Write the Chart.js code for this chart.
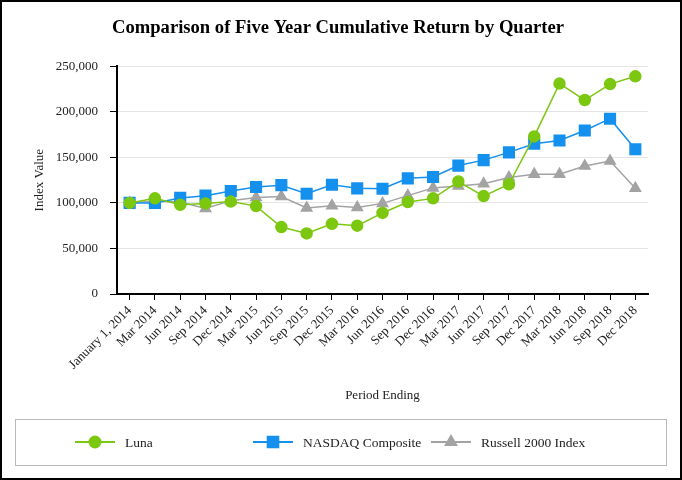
<!DOCTYPE html>
<html>
<head>
<meta charset="utf-8">
<script src="https://cdn.jsdelivr.net/npm/chart.js@4.4.1/dist/chart.umd.min.js"></script>
<style>
  html, body { margin: 0; padding: 0; background: #fff; }
  #wrap { width: 682px; height: 480px; }
</style>
</head>
<body>
<div id="wrap"><canvas id="chart" width="682" height="480"></canvas></div>
<script>
// quarter labels
const periods = ['January 1, 2014', 'Mar 2014', 'Jun 2014', 'Sep 2014', 'Dec 2014',
    'Mar 2015', 'Jun 2015', 'Sep 2015', 'Dec 2015', 'Mar 2016', 'Jun 2016',
    'Sep 2016', 'Dec 2016', 'Mar 2017', 'Jun 2017', 'Sep 2017', 'Dec 2017',
    'Mar 2018', 'Jun 2018', 'Sep 2018', 'Dec 2018'];

// index values
const luna = [100000, 105000, 98000, 99500, 101500, 96500, 73500, 66500, 77000, 75000, 89000,
    101000, 105000, 123500, 107500, 120500, 173000, 231000, 213000, 230500, 239000];
const nasdaq = [100000, 100000, 105500, 108000, 113000, 117500, 119500, 110000, 120000, 116000, 115500,
    127000, 128500, 141000, 147000, 155500, 165000, 168500, 179500, 192500, 159000];
const russell = [100000, 102000, 101000, 94000, 102500, 106000, 107000, 94500, 97000, 95000, 99500,
    108000, 116500, 118500, 121000, 128000, 131500, 131500, 140500, 146000, 116000];

const yTicks = [0, 50000, 100000, 150000, 200000, 250000];

const SERIF = "'Liberation Serif', 'Times New Roman', serif";
const GREEN = '#7cc70f';
const BLUE = '#1490ee';
const GREY = '#a3a3a3';

// white background + outer frame
const framePlugin = {
    id: 'frame',
    beforeDraw(chart) {
        const ctx = chart.ctx;
        ctx.save();
        ctx.fillStyle = '#fff';
        ctx.fillRect(0, 0, chart.width, chart.height);
        ctx.restore();
    },
    afterDraw(chart) {
        const ctx = chart.ctx;
        ctx.save();
        ctx.strokeStyle = '#000';
        ctx.lineWidth = 2;
        ctx.strokeRect(1, 1, chart.width - 2, chart.height - 2);
        ctx.restore();
    }
};

// legend in a box, line + marker for each series
const boxLegend = {
    id: 'boxLegend',
    afterDraw(chart) {
        const ctx = chart.ctx;
        const top = 419, h = 46;
        ctx.save();
        ctx.strokeStyle = '#b9b9b9';
        ctx.lineWidth = 1;
        ctx.strokeRect(15.5, top + 0.5, chart.width - 31, h);

        const cols = [75, 253, 431];
        const cy = top + h / 2;
        chart.data.datasets.forEach((ds, i) => {
            const x0 = cols[i];
            ctx.strokeStyle = ds.borderColor;
            ctx.lineWidth = 2;
            ctx.beginPath();
            ctx.moveTo(x0, cy);
            ctx.lineTo(x0 + 40, cy);
            ctx.stroke();
            ctx.fillStyle = ds.pointBackgroundColor;
            ctx.strokeStyle = ds.pointBackgroundColor;
            Chart.helpers.drawPoint(ctx, {
                pointStyle: ds.pointStyle,
                radius: ds.pointRadius,
                borderWidth: 1
            }, x0 + 20, cy);
            ctx.fillStyle = '#222';
            ctx.font = '13.5px ' + SERIF;
            ctx.textBaseline = 'middle';
            ctx.textAlign = 'left';
            ctx.fillText(ds.label, x0 + 50, cy + 1);
        });
        ctx.restore();
    }
};

new Chart(document.getElementById('chart'), {
    type: 'line',
    data: {
        labels: periods,
        datasets: [{
            label: 'Luna',
            data: luna,
            borderColor: GREEN,
            backgroundColor: GREEN,
            pointBackgroundColor: GREEN,
            pointBorderColor: GREEN,
            pointStyle: 'circle',
            pointRadius: 5.5,
            borderWidth: 1.5
        }, {
            label: 'NASDAQ Composite',
            data: nasdaq,
            borderColor: BLUE,
            backgroundColor: BLUE,
            pointBackgroundColor: BLUE,
            pointBorderColor: BLUE,
            pointStyle: 'rect',
            pointRadius: 7.5,
            borderWidth: 1.5
        }, {
            label: 'Russell 2000 Index',
            data: russell,
            borderColor: GREY,
            backgroundColor: GREY,
            pointBackgroundColor: GREY,
            pointBorderColor: GREY,
            pointStyle: 'triangle',
            pointRadius: 6,
            borderWidth: 1.5
        }]
    },
    options: {
        responsive: false,
        animation: false,
        layout: { padding: { top: 6, left: 28, right: 34, bottom: 75 } },
        plugins: {
            legend: { display: false },
            tooltip: { enabled: false },
            title: {
                display: true,
                text: 'Comparison of Five Year Cumulative Return by Quarter',
                color: '#000',
                font: { family: SERIF, size: 18.6, weight: 'bold' },
                padding: { top: 11, bottom: 27 }
            }
        },
        scales: {
            x: {
                offset: true,
                grid: {
                    offset: false,
                    drawOnChartArea: false,
                    tickLength: 6,
                    tickColor: '#000'
                },
                border: { color: '#000', width: 2 },
                ticks: {
                    autoSkip: false,
                    minRotation: 45,
                    maxRotation: 45,
                    color: '#222',
                    font: { family: SERIF, size: 13 }
                },
                title: {
                    display: true,
                    text: 'Period Ending',
                    color: '#222',
                    font: { family: SERIF, size: 13 },
                    padding: { top: 2, bottom: 2 }
                },
                afterFit(scale) { scale.height = 111; }
            },
            y: {
                min: 0,
                max: 250000,
                afterBuildTicks(scale) {
                    scale.ticks = yTicks.map(v => ({ value: v }));
                },
                grid: {
                    color: '#e4e4e4',
                    tickColor: '#000',
                    tickLength: 7
                },
                border: { color: '#000', width: 2 },
                ticks: {
                    padding: 12,
                    color: '#222',
                    font: { family: SERIF, size: 13 },
                    callback: v => v.toLocaleString('en-US')
                },
                title: {
                    display: true,
                    text: 'Index Value',
                    color: '#222',
                    font: { family: SERIF, size: 13 },
                    padding: { top: 4, bottom: 4 }
                },
                afterFit(scale) { scale.width = 89; }
            }
        }
    },
    plugins: [framePlugin, boxLegend]
});
</script>
</body>
</html>
